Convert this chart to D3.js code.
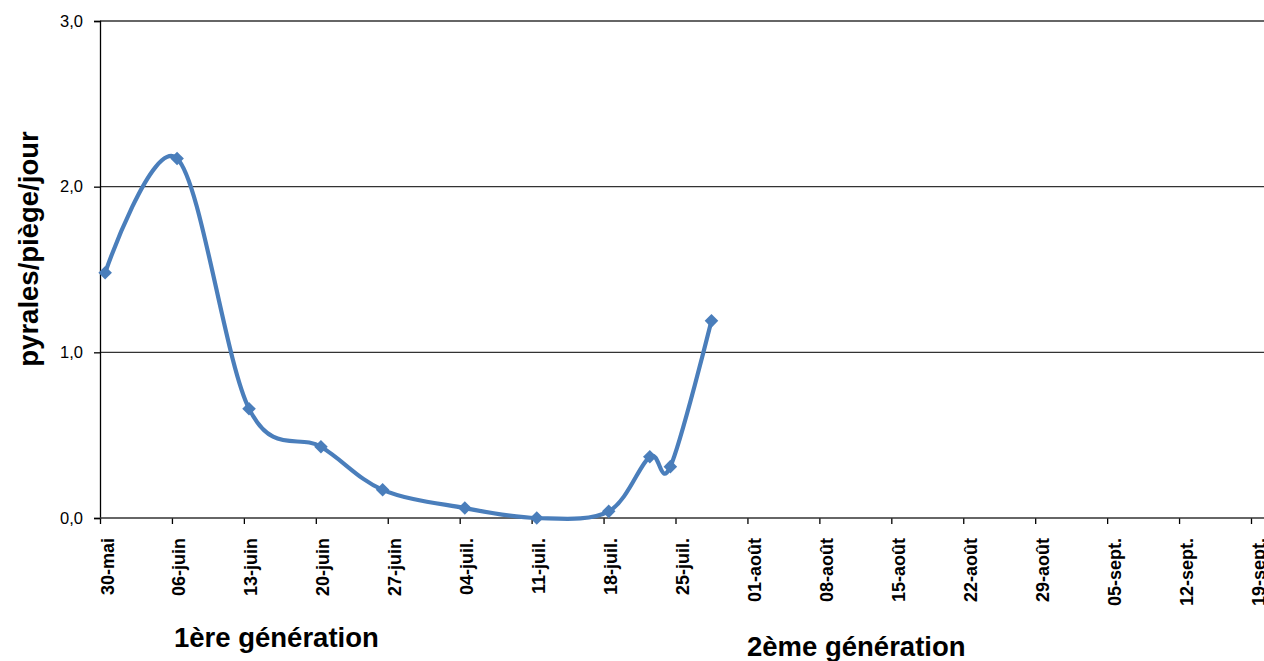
<!DOCTYPE html>
<html><head><meta charset="utf-8">
<script src="https://cdn.jsdelivr.net/npm/d3@7"></script>
<style>body{margin:0;background:#fff;overflow:hidden}svg{display:block}text{font-family:"Liberation Sans",Arial,sans-serif}</style>
</head><body>
<svg id="c" width="1264" height="661"></svg>
<script>
// ---- data ----
const dates = ["2010-05-30","2010-06-06","2010-06-13","2010-06-20","2010-06-26","2010-07-04","2010-07-11","2010-07-18","2010-07-22","2010-07-24","2010-07-28"];
const values = [1.48, 2.17, 0.66, 0.43, 0.17, 0.06, 0.00, 0.04, 0.37, 0.31, 1.19];
const tickDates = ["2010-05-30","2010-06-06","2010-06-13","2010-06-20","2010-06-27","2010-07-04","2010-07-11","2010-07-18","2010-07-25","2010-08-01","2010-08-08","2010-08-15","2010-08-22","2010-08-29","2010-09-05","2010-09-12","2010-09-19"];
const tickLabels = ["30-mai","06-juin","13-juin","20-juin","27-juin","04-juil.","11-juil.","18-juil.","25-juil.","01-août","08-août","15-août","22-août","29-août","05-sept.","12-sept.","19-sept."];
const yTicks = [0, 1, 2, 3];
const yTickLabels = ["0,0","1,0","2,0","3,0"];
const yTitle = "pyrales/piège/jour";
const genLabels = ["1ère génération","2ème génération"];

(function () {
const parse = d3.timeParse("%Y-%m-%d");
const svg = d3.select("#c");
const mLeft = 100, mTop = 21, mBottom = 518;
const dayPx = (1251 - 100) / 112;
const x0 = parse(tickDates[0]);
const x = d3.scaleTime().domain([x0, d3.timeDay.offset(x0, 116)]).range([mLeft, mLeft + 116 * dayPx]);
const y = d3.scaleLinear().domain([0, 3]).range([mBottom, mTop]);
const xEnd = 1264;

// gridlines
svg.append("g").selectAll("line").data(yTicks.filter(v => v > 0)).join("line")
  .attr("x1", mLeft).attr("x2", xEnd).attr("y1", d => y(d)).attr("y2", d => y(d))
  .attr("stroke", "#333").attr("stroke-width", 1.3);

// y axis
const yAxis = svg.append("g").attr("transform", `translate(${mLeft},0)`)
  .call(d3.axisLeft(y).tickValues(yTicks).tickSize(6).tickFormat((d, i) => yTickLabels[i]));
yAxis.select(".domain").attr("stroke", "#000").attr("stroke-width", 1.3);
yAxis.selectAll(".tick line").attr("stroke", "#000").attr("stroke-width", 1.3);
yAxis.selectAll(".tick text").attr("font-size", 16.5).attr("fill", "#000").attr("x", -17).attr("font-family", "Liberation Sans, Arial, sans-serif");

// x axis
const tDates = tickDates.map(parse);
const xAxis = svg.append("g").attr("transform", `translate(0,${mBottom})`)
  .call(d3.axisBottom(x).tickValues(tDates).tickSize(6).tickFormat((d, i) => tickLabels[i]));
xAxis.select(".domain").remove();
svg.append("line").attr("x1", mLeft).attr("x2", xEnd).attr("y1", mBottom).attr("y2", mBottom).attr("stroke", "#333").attr("stroke-width", 1.6);
xAxis.selectAll(".tick line").attr("stroke", "#000").attr("stroke-width", 1.3);
xAxis.selectAll(".tick text")
  .attr("font-size", 18).attr("font-weight", "bold").attr("fill", "#000")
  .attr("font-family", "Liberation Sans, Arial, sans-serif")
  .attr("text-anchor", "end").attr("dy", null).attr("y", null)
  .attr("transform", "translate(13,20) rotate(-90)");

// series
const pts = dates.map((d, i) => ({ t: d3.timeHour.offset(parse(d), 12), v: values[i] }));
const line = d3.line().x(d => x(d.t)).y(d => y(d.v)).curve(d3.curveCardinal.tension(0));
svg.append("path").datum(pts).attr("d", line).attr("fill", "none")
  .attr("stroke", "#4A7EBB").attr("stroke-width", 4.2).attr("stroke-linejoin", "round");
svg.append("g").selectAll("path").data(pts).join("path")
  .attr("d", d3.symbol().type(d3.symbolSquare).size(92))
  .attr("transform", d => `translate(${x(d.t)},${y(d.v)}) rotate(45)`)
  .attr("fill", "#4A7EBB");

// titles
svg.append("text").text(yTitle).attr("font-size", 27.5).attr("font-weight", "bold").attr("fill", "#000")
  .attr("text-anchor", "middle").attr("transform", `translate(38,249) rotate(-90)`);
svg.append("text").text(genLabels[0]).attr("font-size", 27.5).attr("font-weight", "bold").attr("fill", "#000")
  .attr("x", 174).attr("y", 647);
svg.append("text").text(genLabels[1]).attr("font-size", 27.5).attr("font-weight", "bold").attr("fill", "#000")
  .attr("x", 747).attr("y", 656);
})();
</script>
</body></html>
